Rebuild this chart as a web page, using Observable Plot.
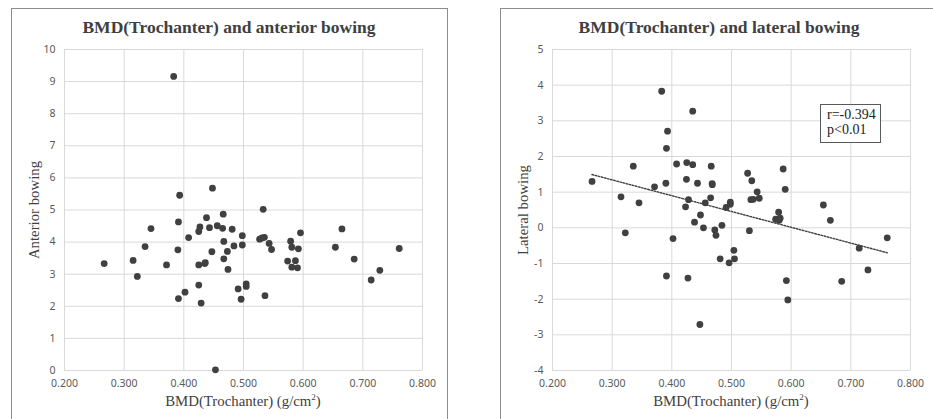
<!DOCTYPE html>
<html>
<head>
<meta charset="utf-8">
<script src="https://cdn.jsdelivr.net/npm/d3@7"></script>
<script src="https://cdn.jsdelivr.net/npm/@observablehq/plot@0.6"></script>
<style>
  html, body { margin: 0; padding: 0; background: #fff; }
  #wrap { position: relative; width: 933px; height: 419px; overflow: hidden; background: #fff; }
  .panel { position: absolute; border: 1.5px solid #8c8c8c; background: #fff; }
  .abs { position: absolute; }
  .serif { font-family: "Liberation Serif", "DejaVu Serif", "Noto Serif", serif; }
  .title { font-weight: bold; font-size: 17.5px; color: #404040; white-space: nowrap; transform: translate(-50%, -50%); }
  .xlab { font-size: 14.8px; color: #404040; white-space: nowrap; transform: translate(-50%, -50%); }
  .xlab sup { font-size: 9px; vertical-align: 6px; line-height: 0; }
  .ylab { font-size: 14.8px; color: #404040; white-space: nowrap; transform: translate(-50%, -50%) rotate(-90deg); }
  .note { font-size: 14px; color: #222; border: 1.2px solid #595959; background: #fff; line-height: 15px; padding: 2px 6px 3px 6px; box-sizing: border-box; }
</style>
</head>
<body>
<div id="wrap"></div>
<script>
// Anterior bowing panel data
const antX = [0.2665,0.315,0.322,0.335,0.345,0.371,0.383,0.390,0.391,0.393,0.391,0.402,0.408,0.425,0.427,0.425,0.425,0.429,0.435,0.436,0.438,0.443,0.447,0.448,0.453,0.456,0.465,0.466,0.467,0.467,0.473,0.474,0.481,0.484,0.491,0.496,0.498,0.498,0.5045,0.5045,0.527,0.531,0.535,0.533,0.536,0.543,0.547,0.574,0.579,0.581,0.581,0.587,0.5905,0.592,0.5955,0.654,0.665,0.6855,0.714,0.7285,0.761];
const antY = [3.33,3.43,2.93,3.86,4.42,3.29,9.16,3.76,4.63,5.46,2.24,2.44,4.14,4.33,4.47,3.29,2.66,2.10,3.33,3.36,4.76,4.45,3.70,5.68,0.02,4.51,4.43,4.87,4.02,3.48,3.71,3.15,4.40,3.88,2.54,2.22,4.20,3.91,2.70,2.62,4.09,4.13,4.15,5.02,2.33,3.96,3.77,3.41,4.03,3.84,3.22,3.42,3.20,3.79,4.29,3.84,4.41,3.47,2.82,3.12,3.80];

// Lateral bowing panel data
const latX = [0.2663,0.3148,0.322,0.3354,0.345,0.371,0.383,0.390,0.391,0.3928,0.391,0.402,0.408,0.423,0.4245,0.425,0.427,0.428,0.435,0.435,0.438,0.443,0.448,0.447,0.453,0.456,0.465,0.466,0.4675,0.4678,0.472,0.474,0.481,0.484,0.491,0.496,0.498,0.498,0.504,0.505,0.527,0.530,0.534,0.5325,0.5365,0.543,0.5465,0.574,0.579,0.580,0.5815,0.5866,0.590,0.592,0.5944,0.654,0.6657,0.6847,0.714,0.7287,0.761];
const latY = [1.30,0.87,-0.14,1.73,0.70,1.15,3.83,1.25,2.23,2.71,-1.35,-0.30,1.79,0.59,1.36,1.83,-1.41,0.79,1.77,3.27,0.16,1.25,0.36,-2.71,0.00,0.70,0.84,1.73,1.24,1.21,-0.06,-0.21,-0.87,0.07,0.57,-0.98,0.72,0.66,-0.63,-0.87,1.53,-0.08,1.32,0.79,0.80,1.01,0.83,0.24,0.44,0.21,0.27,1.65,1.08,-1.48,-2.02,0.64,0.21,-1.50,-0.57,-1.18,-0.28];

const xTicks = [0.2,0.3,0.4,0.5,0.6,0.7,0.8];
const antTicks = [0,1,2,3,4,5,6,7,8,9,10];
const latTicks = [-4,-3,-2,-1,0,1,2,3,4,5];

const titles = ["BMD(Trochanter) and anterior bowing", "BMD(Trochanter) and lateral bowing"];
const yLabels = ["Anterior bowing", "Lateral bowing"];
const xLabelText = "BMD(Trochanter) (g/cm";
const noteLines = ["r=-0.394", "p<0.01"];

const antData = antX.map((x, i) => ({x, y: antY[i]}));
const latData = latX.map((x, i) => ({x, y: latY[i]}));

const wrap = document.getElementById("wrap");
function add(html, cls, left, top, extra) {
  const d = document.createElement("div");
  d.className = "abs " + cls;
  d.style.left = left + "px";
  d.style.top = top + "px";
  if (extra) Object.assign(d.style, extra);
  d.innerHTML = html;
  wrap.appendChild(d);
  return d;
}

// panel borders
add("", "panel", 11, 8, {width: "435px", height: "430px"});
add("", "panel", 500, 8, {width: "450px", height: "430px"});

function makePlot(data, yDomain, yTicks, mLeft, mRight, withTrend) {
  const marks = [
    Plot.gridX(xTicks, {stroke: "#d9d9d9", strokeOpacity: 1, strokeWidth: 1}),
    Plot.gridY(yTicks, {stroke: "#d9d9d9", strokeOpacity: 1, strokeWidth: 1}),
    Plot.axisX(xTicks, {tickSize: 0, tickPadding: 9, tickFormat: d3.format(".3f"), fill: "#595959", fontSize: 10.5, label: null}),
    Plot.axisY(yTicks, {tickSize: 0, tickPadding: 9, tickFormat: d => String(d), fill: "#595959", fontSize: 10.5, label: null}),
    Plot.dot(data, {x: "x", y: "y", r: 3.4, fill: "#404040", stroke: "none"})
  ];
  if (withTrend) {
    marks.push(Plot.linearRegressionY(data, {x: "x", y: "y", ci: 0, stroke: "#404040", strokeWidth: 1.4, strokeDasharray: "1.6,1.6"}));
  }
  return Plot.plot({
    width: mLeft + 358 + mRight,
    height: 419,
    marginLeft: mLeft,
    marginRight: mRight,
    marginTop: 49,
    marginBottom: 49,
    style: {background: "transparent", fontFamily: "'Noto Sans', 'DejaVu Sans', sans-serif"},
    x: {domain: [0.2, 0.8], label: null},
    y: {domain: yDomain, label: null},
    marks
  });
}

const p1 = makePlot(antData, [0, 10], antTicks, 64, 44, false);
p1.style.position = "absolute"; p1.style.left = "0px"; p1.style.top = "0px";
wrap.appendChild(p1);

const p2 = makePlot(latData, [-4, 5], latTicks, 86, 23, true);
p2.style.position = "absolute"; p2.style.left = "466px"; p2.style.top = "0px";
wrap.appendChild(p2);

// texts
add(titles[0], "serif title", 229, 27);
add(titles[1], "serif title", 719, 27);
add(yLabels[0], "serif ylab", 34, 210);
add(yLabels[1], "serif ylab", 523, 210);
add(xLabelText + "<sup>2</sup>)", "serif xlab", 243, 401);
add(xLabelText + "<sup>2</sup>)", "serif xlab", 731, 401);
add(noteLines.join("<br>"), "serif note", 820, 104, {width: "61px", height: "39px"});
</script>
</body>
</html>
